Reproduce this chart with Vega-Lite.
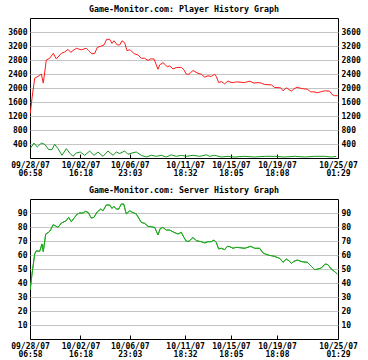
{
  "$schema": "https://vega.github.io/schema/vega-lite/v6.json",
  "padding": {"top": 4, "left": 7, "right": 0, "bottom": 0},
  "background": "white",
  "spacing": 7,
  "config": {
    "view": {"stroke": "black", "strokeWidth": 1},
    "font": "DejaVu Sans Mono",
    "axis": {
      "labelFont": "DejaVu Sans Mono",
      "labelFontSize": 8,
      "labelColor": "black",
      "labelFontWeight": "bold",
      "domain": false,
      "gridColor": "#c4c4c4",
      "gridWidth": 1,
      "gridOpacity": 1,
      "tickColor": "black"
    },
    "title": {
      "font": "DejaVu Sans Mono",
      "fontSize": 8.3,
      "fontWeight": "bold",
      "color": "black",
      "anchor": "middle",
      "offset": 5
    }
  },
  "datasets": {
    "players": [
      {"hours": 0.5, "players": 1265}, {"hours": 4.2, "players": 1710}, {"hours": 9.8, "players": 2280},
      {"hours": 16.7, "players": 2330}, {"hours": 23.6, "players": 2400}, {"hours": 27.7, "players": 2140},
      {"hours": 34.0, "players": 2800}, {"hours": 41.1, "players": 2850}, {"hours": 48.6, "players": 2990},
      {"hours": 54.9, "players": 2830}, {"hours": 65.3, "players": 2990}, {"hours": 72.4, "players": 3030},
      {"hours": 79.3, "players": 3105}, {"hours": 84.9, "players": 3020}, {"hours": 96.6, "players": 3135},
      {"hours": 107.0, "players": 3090}, {"hours": 117.4, "players": 3135}, {"hours": 122.4, "players": 3070},
      {"hours": 129.3, "players": 2975}, {"hours": 135.0, "players": 2990}, {"hours": 140.4, "players": 3160},
      {"hours": 148.7, "players": 3200}, {"hours": 154.4, "players": 3230}, {"hours": 160.0, "players": 3390},
      {"hours": 166.3, "players": 3390}, {"hours": 171.1, "players": 3275}, {"hours": 175.2, "players": 3350},
      {"hours": 182.1, "players": 3230}, {"hours": 187.1, "players": 3230}, {"hours": 191.9, "players": 3350},
      {"hours": 197.5, "players": 3295}, {"hours": 202.3, "players": 3070}, {"hours": 208.0, "players": 3090},
      {"hours": 210.1, "players": 3070}, {"hours": 218.4, "players": 2975}, {"hours": 225.3, "players": 2945},
      {"hours": 232.2, "players": 2850}, {"hours": 239.3, "players": 2850}, {"hours": 246.1, "players": 2785},
      {"hours": 251.8, "players": 2830}, {"hours": 258.7, "players": 2830}, {"hours": 267.0, "players": 2535},
      {"hours": 270.6, "players": 2660}, {"hours": 277.4, "players": 2725}, {"hours": 286.4, "players": 2610},
      {"hours": 291.4, "players": 2630}, {"hours": 298.3, "players": 2545}, {"hours": 305.2, "players": 2585},
      {"hours": 315.6, "players": 2590}, {"hours": 321.2, "players": 2520}, {"hours": 326.0, "players": 2395},
      {"hours": 331.7, "players": 2395}, {"hours": 340.0, "players": 2500}, {"hours": 350.4, "players": 2420},
      {"hours": 357.3, "players": 2395}, {"hours": 364.4, "players": 2310}, {"hours": 371.3, "players": 2350},
      {"hours": 378.2, "players": 2330}, {"hours": 385.3, "players": 2395}, {"hours": 388.6, "players": 2330},
      {"hours": 393.6, "players": 2155}, {"hours": 399.0, "players": 2185}, {"hours": 406.1, "players": 2120},
      {"hours": 413.0, "players": 2200}, {"hours": 421.4, "players": 2150}, {"hours": 430.3, "players": 2175},
      {"hours": 447.9, "players": 2155}, {"hours": 458.3, "players": 2195}, {"hours": 467.3, "players": 2140},
      {"hours": 475.6, "players": 2155}, {"hours": 482.5, "players": 2140}, {"hours": 489.6, "players": 2100},
      {"hours": 503.3, "players": 2090}, {"hours": 510.4, "players": 2015}, {"hours": 523.0, "players": 2005},
      {"hours": 527.8, "players": 1920}, {"hours": 534.6, "players": 2005}, {"hours": 540.3, "players": 1955},
      {"hours": 545.1, "players": 1910}, {"hours": 550.1, "players": 1965}, {"hours": 557.0, "players": 2025},
      {"hours": 565.9, "players": 1985}, {"hours": 578.4, "players": 1965}, {"hours": 585.5, "players": 1890},
      {"hours": 592.4, "players": 1890}, {"hours": 599.3, "players": 1865}, {"hours": 606.4, "players": 1890},
      {"hours": 614.7, "players": 1920}, {"hours": 625.2, "players": 1910}, {"hours": 630.0, "players": 1815},
      {"hours": 635.6, "players": 1780}, {"hours": 642.0, "players": 1780}
    ],
    "other": [
      {"hours": 0.5, "count": 268}, {"hours": 8.3, "count": 427}, {"hours": 15.2, "count": 313},
      {"hours": 23.6, "count": 427}, {"hours": 30.7, "count": 390}, {"hours": 39.0, "count": 240},
      {"hours": 45.9, "count": 240}, {"hours": 51.5, "count": 390}, {"hours": 58.4, "count": 268},
      {"hours": 66.8, "count": 77}, {"hours": 75.7, "count": 268}, {"hours": 82.8, "count": 142},
      {"hours": 89.7, "count": 48}, {"hours": 96.6, "count": 142}, {"hours": 104.9, "count": 171},
      {"hours": 114.1, "count": 77}, {"hours": 124.5, "count": 200}, {"hours": 133.5, "count": 77},
      {"hours": 141.8, "count": 171}, {"hours": 152.3, "count": 48}, {"hours": 162.7, "count": 200},
      {"hours": 173.1, "count": 77}, {"hours": 180.0, "count": 171}, {"hours": 187.1, "count": 128},
      {"hours": 197.5, "count": 200}, {"hours": 204.4, "count": 105}, {"hours": 212.8, "count": 142},
      {"hours": 221.7, "count": 171}, {"hours": 232.2, "count": 77}, {"hours": 242.6, "count": 28},
      {"hours": 253.0, "count": 77}, {"hours": 263.5, "count": 48}, {"hours": 273.9, "count": 77},
      {"hours": 284.3, "count": 28}, {"hours": 294.7, "count": 90}, {"hours": 305.2, "count": 48},
      {"hours": 315.6, "count": 77}, {"hours": 326.0, "count": 48}, {"hours": 340.0, "count": 77},
      {"hours": 354.0, "count": 48}, {"hours": 367.8, "count": 90}, {"hours": 374.9, "count": 48},
      {"hours": 385.3, "count": 77}, {"hours": 399.0, "count": 28}, {"hours": 413.0, "count": 48},
      {"hours": 427.0, "count": 28}, {"hours": 447.9, "count": 48}, {"hours": 468.7, "count": 28},
      {"hours": 489.6, "count": 48}, {"hours": 510.4, "count": 48}, {"hours": 531.3, "count": 28},
      {"hours": 552.2, "count": 48}, {"hours": 573.0, "count": 28}, {"hours": 593.9, "count": 48},
      {"hours": 614.7, "count": 48}, {"hours": 628.5, "count": 28}, {"hours": 638.9, "count": 48}
    ],
    "servers": [
      {"hours": 0.5, "servers": 35.2}, {"hours": 4.2, "servers": 46.4}, {"hours": 9.8, "servers": 60.7},
      {"hours": 13.1, "servers": 63}, {"hours": 20.2, "servers": 62.6}, {"hours": 25.0, "servers": 67.9},
      {"hours": 27.7, "servers": 62.4}, {"hours": 32.8, "servers": 75}, {"hours": 39.0, "servers": 76.2},
      {"hours": 43.2, "servers": 78}, {"hours": 48.0, "servers": 81.6}, {"hours": 52.8, "servers": 80.9},
      {"hours": 58.4, "servers": 79.7}, {"hours": 65.3, "servers": 82.8}, {"hours": 75.7, "servers": 84.5},
      {"hours": 80.7, "servers": 86.9}, {"hours": 86.2, "servers": 83.8}, {"hours": 93.2, "servers": 86.9},
      {"hours": 98.7, "servers": 89.3}, {"hours": 103.7, "servers": 90}, {"hours": 110.6, "servers": 90},
      {"hours": 115.4, "servers": 91.2}, {"hours": 121.0, "servers": 90.5}, {"hours": 127.9, "servers": 86.4},
      {"hours": 133.5, "servers": 86.9}, {"hours": 140.4, "servers": 90.9}, {"hours": 147.5, "servers": 92.8},
      {"hours": 152.3, "servers": 91.6}, {"hours": 159.2, "servers": 95.7}, {"hours": 166.3, "servers": 95.7},
      {"hours": 171.1, "servers": 93.3}, {"hours": 175.2, "servers": 94.7}, {"hours": 180.0, "servers": 92.8},
      {"hours": 185.0, "servers": 92.8}, {"hours": 190.5, "servers": 96.4}, {"hours": 195.5, "servers": 96.4},
      {"hours": 200.9, "servers": 89.3}, {"hours": 208.0, "servers": 91.6}, {"hours": 211.3, "servers": 90.9},
      {"hours": 221.7, "servers": 89.3}, {"hours": 232.2, "servers": 83.3}, {"hours": 239.3, "servers": 82.6},
      {"hours": 246.1, "servers": 80.5}, {"hours": 253.0, "servers": 80.2}, {"hours": 260.1, "servers": 79.7},
      {"hours": 267.0, "servers": 74.3}, {"hours": 271.8, "servers": 79}, {"hours": 277.4, "servers": 79.7},
      {"hours": 284.3, "servers": 77.8}, {"hours": 291.4, "servers": 77.8}, {"hours": 300.4, "servers": 76.2},
      {"hours": 308.7, "servers": 75}, {"hours": 315.6, "servers": 76.2}, {"hours": 321.2, "servers": 72.6},
      {"hours": 326.0, "servers": 69.8}, {"hours": 331.7, "servers": 69.8}, {"hours": 340.0, "servers": 72.6},
      {"hours": 346.9, "servers": 70.2}, {"hours": 357.3, "servers": 69.5}, {"hours": 364.4, "servers": 68.6},
      {"hours": 371.3, "servers": 69.5}, {"hours": 378.2, "servers": 69.5}, {"hours": 383.8, "servers": 70.7},
      {"hours": 388.6, "servers": 69}, {"hours": 393.6, "servers": 64.3}, {"hours": 399.0, "servers": 64.8},
      {"hours": 406.1, "servers": 63.8}, {"hours": 411.6, "servers": 66.2}, {"hours": 416.6, "servers": 66},
      {"hours": 423.5, "servers": 64.8}, {"hours": 430.3, "servers": 65.5}, {"hours": 447.9, "servers": 64.8},
      {"hours": 460.4, "servers": 66.2}, {"hours": 468.7, "servers": 64.8}, {"hours": 479.2, "servers": 64.8},
      {"hours": 486.0, "servers": 61.4}, {"hours": 496.5, "servers": 60}, {"hours": 510.4, "servers": 59},
      {"hours": 520.9, "servers": 57.6}, {"hours": 527.8, "servers": 54.8}, {"hours": 534.6, "servers": 57.1},
      {"hours": 540.3, "servers": 55.9}, {"hours": 545.1, "servers": 54}, {"hours": 550.7, "servers": 55.5},
      {"hours": 557.6, "servers": 56.4}, {"hours": 567.4, "servers": 55.2}, {"hours": 578.4, "servers": 54.8},
      {"hours": 585.5, "servers": 52.4}, {"hours": 593.9, "servers": 49.5}, {"hours": 600.8, "servers": 50},
      {"hours": 607.6, "servers": 50.7}, {"hours": 616.0, "servers": 53.6}, {"hours": 621.6, "servers": 53.1},
      {"hours": 628.5, "servers": 50}, {"hours": 635.6, "servers": 48.1}, {"hours": 641.0, "servers": 46.4}
    ]
  },
  "vconcat": [
    {
      "title": "Game-Monitor.com: Player History Graph",
      "width": 308,
      "height": 140,
      "layer": [
        {
          "data": {"name": "players"},
          "mark": {"type": "line", "color": "#ff1a1a", "strokeWidth": 1, "clip": true},
          "encoding": {
            "x": {"field": "hours", "type": "quantitative",
              "scale": {"domain": [0, 642.52], "nice": false, "zero": false},
              "axis": {"title": null, "values": [0, 105.33, 208.08, 323.57, 419.12, 515.17, 642.52],
                "grid": false, "tickSize": -4, "labelPadding": 7, "labelLineHeight": 8.5,
                "labelOverlap": false, "labelFlush": false, "labelBound": false, "labelBaseline": "top",
                "labelExpr": "datum.value < 50 ? ['09/28/07','06:58'] : datum.value < 150 ? ['10/02/07','16:18'] : datum.value < 260 ? ['10/06/07','23:03'] : datum.value < 370 ? ['10/11/07','18:32'] : datum.value < 470 ? ['10/15/07','18:05'] : datum.value < 580 ? ['10/19/07','18:08'] : ['10/25/07','01:29']"}},
            "y": {"field": "players", "type": "quantitative",
              "scale": {"domain": [0, 4000], "nice": false},
              "axis": {"title": null, "orient": "left", "format": "d", "values": [400, 800, 1200, 1600, 2000, 2400, 2800, 3200, 3600],
                "ticks": false, "labelPadding": 3, "grid": true}}
          }
        },
        {
          "data": {"name": "other"},
          "mark": {"type": "line", "color": "#14961e", "strokeWidth": 1, "clip": true},
          "encoding": {
            "x": {"field": "hours", "type": "quantitative"},
            "y": {"field": "count", "type": "quantitative",
              "axis": {"title": null, "orient": "right", "format": "d", "values": [400, 800, 1200, 1600, 2000, 2400, 2800, 3200, 3600],
                "ticks": false, "labelPadding": 3, "grid": false}}
          }
        }
      ],
      "resolve": {"axis": {"y": "independent"}}
    },
    {
      "title": "Game-Monitor.com: Server History Graph",
      "width": 308,
      "height": 140,
      "data": {"name": "servers"},
      "layer": [
        {
          "mark": {"type": "line", "color": "#1eaa1e", "strokeWidth": 1, "clip": true},
          "encoding": {
            "x": {"field": "hours", "type": "quantitative",
              "scale": {"domain": [0, 642.52], "nice": false, "zero": false},
              "axis": {"title": null, "values": [0, 105.33, 208.08, 323.57, 419.12, 515.17, 642.52],
                "grid": false, "tickSize": -4, "labelPadding": 7, "labelLineHeight": 8.5,
                "labelOverlap": false, "labelFlush": false, "labelBound": false, "labelBaseline": "top",
                "labelExpr": "datum.value < 50 ? ['09/28/07','06:58'] : datum.value < 150 ? ['10/02/07','16:18'] : datum.value < 260 ? ['10/06/07','23:03'] : datum.value < 370 ? ['10/11/07','18:32'] : datum.value < 470 ? ['10/15/07','18:05'] : datum.value < 580 ? ['10/19/07','18:08'] : ['10/25/07','01:29']"}},
            "y": {"field": "servers", "type": "quantitative",
              "scale": {"domain": [0, 100], "nice": false},
              "axis": {"title": null, "orient": "left", "format": "d", "values": [10, 20, 30, 40, 50, 60, 70, 80, 90],
                "ticks": false, "labelPadding": 3, "grid": true}}
          }
        },
        {
          "mark": {"type": "line", "color": "#1eaa1e", "strokeWidth": 1, "clip": true},
          "encoding": {
            "x": {"field": "hours", "type": "quantitative"},
            "y": {"field": "servers", "type": "quantitative",
              "axis": {"title": null, "orient": "right", "format": "d", "values": [10, 20, 30, 40, 50, 60, 70, 80, 90],
                "ticks": false, "labelPadding": 3, "grid": false}}
          }
        }
      ],
      "resolve": {"axis": {"y": "independent"}}
    }
  ]
}
